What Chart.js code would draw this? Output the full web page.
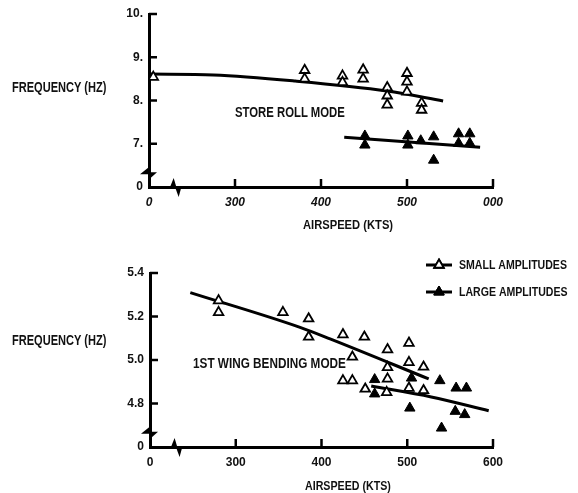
<!DOCTYPE html>
<html><head><meta charset="utf-8">
<script src="https://cdn.jsdelivr.net/npm/chart.js@4.4.1/dist/chart.umd.min.js"></script>
<style>
html,body{margin:0;padding:0;background:#fff;width:578px;height:493px;overflow:hidden}
.lbl{position:absolute;font-family:'Liberation Sans',Arial,sans-serif;font-weight:bold;font-size:14px;color:#111;white-space:nowrap;line-height:1;transform-origin:0 0}
canvas{position:absolute;left:0}
</style></head><body>
<canvas id="c1" width="578" height="240" style="top:0px"></canvas>
<canvas id="c2" width="578" height="253" style="top:240px"></canvas>
<div class="lbl" style="left:12px;top:80px;transform:scaleX(0.79)">FREQUENCY (HZ)</div>
<div class="lbl" style="left:235px;top:105px;transform:scaleX(0.81)">STORE ROLL MODE</div>
<div class="lbl" style="left:303px;top:218px;font-size:13px;transform:scaleX(0.86)">AIRSPEED (KTS)</div>
<div class="lbl" style="left:12px;top:333px;transform:scaleX(0.79)">FREQUENCY (HZ)</div>
<div class="lbl" style="left:193px;top:356px;transform:scaleX(0.84)">1ST WING BENDING MODE</div>
<div class="lbl" style="left:305px;top:479px;font-size:13px;transform:scaleX(0.82)">AIRSPEED (KTS)</div>
<script>
// ---- Store roll mode (top panel) ----
const storeSmallSpeed = [205, 381, 381, 425, 425, 449, 449, 477, 477, 477, 500, 500, 500, 517, 517];
const storeSmallFreq  = [8.54, 8.70, 8.50, 8.57, 8.42, 8.71, 8.50, 8.30, 8.11, 7.90, 8.63, 8.43, 8.20, 7.94, 7.78];
const storeLargeSpeed = [451, 451, 501, 501, 516, 531, 531, 560, 560, 573, 573];
const storeLargeFreq  = [7.18, 6.97, 7.18, 6.97, 7.07, 7.16, 6.62, 7.23, 7.01, 7.23, 7.01];
const storeSmallFitSpeed = [200, 275, 370, 477, 542];
const storeSmallFitFreq  = [8.61, 8.59, 8.45, 8.22, 7.99];
const storeLargeFitSpeed = [427, 585];
const storeLargeFitFreq  = [7.15, 6.92];
const storeYTicks = [6, 7, 8, 9, 10];
const storeYLabels = ['0', '7.', '8.', '9.', '10.'];
const storeXTicks = [200, 300, 400, 500, 600];
const storeXLabels = ['0', '300', '400', '500', '000'];

// ---- 1st wing bending mode (bottom panel) ----
const wingSmallSpeed = [280, 280, 355, 385, 385, 425, 450, 436, 477, 502, 477, 502, 519, 425, 436, 477, 451, 476, 502, 519];
const wingSmallFreq  = [5.273, 5.219, 5.219, 5.19, 5.106, 5.117, 5.106, 5.014, 5.048, 5.078, 4.966, 4.989, 4.968, 4.905, 4.905, 4.913, 4.867, 4.851, 4.871, 4.86];
const wingLargeSpeed = [462, 462, 505, 503, 538, 557, 569, 556, 567, 540];
const wingLargeFreq  = [4.91, 4.844, 4.917, 4.779, 4.905, 4.871, 4.871, 4.764, 4.749, 4.687];
const wingSmallFitSpeed = [247, 375, 410, 525];
const wingSmallFitFreq  = [5.31, 5.15, 5.097, 4.913];
const wingLargeFitSpeed = [458, 528, 595];
const wingLargeFitFreq  = [4.88, 4.83, 4.767];
const wingYTicks = [4.6, 4.8, 5.0, 5.2, 5.4];
const wingYLabels = ['0', '4.8', '5.0', '5.2', '5.4'];
const wingXTicks = [200, 300, 400, 500, 600];
const wingXLabels = ['0', '300', '400', '500', '600'];
const legendLabels = ['SMALL AMPLITUDES', 'LARGE AMPLITUDES'];

const FONT = "'Liberation Sans',Arial,sans-serif";
const pts = (xs, ys) => xs.map((x, i) => ({x, y: ys[i]}));

const decor = {
  id: 'decor',
  afterDraw(chart, args, o) {
    const {ctx, scales: {x, y}, chartArea: a} = chart;
    ctx.save();
    ctx.strokeStyle = '#000'; ctx.fillStyle = '#000'; ctx.lineWidth = 2.5;
    y.ticks.forEach(t => { if (t.value === y.min) return; const py = y.getPixelForValue(t.value);
      ctx.beginPath(); ctx.moveTo(a.left, py); ctx.lineTo(a.left + 8, py); ctx.stroke(); });
    x.ticks.forEach(t => { if (t.value === x.min) return; const px = x.getPixelForValue(t.value);
      ctx.beginPath(); ctx.moveTo(px, a.bottom); ctx.lineTo(px, a.bottom - 8); ctx.stroke(); });
    // axis break marks
    const yb = y.getPixelForValue(o.yBreak), ax = a.left;
    ctx.beginPath(); ctx.moveTo(ax + 1, yb - 7); ctx.lineTo(ax - 9, yb + 1); ctx.lineTo(ax + 1, yb + 1); ctx.closePath(); ctx.fill();
    ctx.beginPath(); ctx.moveTo(ax - 1, yb - 1); ctx.lineTo(ax + 8, yb - 1); ctx.lineTo(ax - 1, yb + 7); ctx.closePath(); ctx.fill();
    const xb = x.getPixelForValue(o.xBreak), ay = a.bottom;
    ctx.beginPath(); ctx.moveTo(xb - 6, ay + 1); ctx.lineTo(xb - 2, ay - 9); ctx.lineTo(xb + 1, ay + 1); ctx.closePath(); ctx.fill();
    ctx.beginPath(); ctx.moveTo(xb - 1, ay - 1); ctx.lineTo(xb + 6, ay - 1); ctx.lineTo(xb + 3, ay + 10); ctx.closePath(); ctx.fill();
    // legend
    if (o.legend) {
      ctx.font = "bold 12px " + FONT; ctx.textBaseline = 'middle'; ctx.textAlign = 'left';
      [0, 1].forEach(i => {
        const ds = chart.data.datasets[i];
        const ly = a.top + o.legend.y0 + i * 27, lx = a.right - o.legend.dx;
        ctx.lineWidth = 3; ctx.strokeStyle = '#000';
        ctx.beginPath(); ctx.moveTo(lx, ly); ctx.lineTo(lx + 26, ly); ctx.stroke();
        ctx.lineWidth = ds.borderWidth;
        Chart.helpers.drawPoint(ctx, {pointStyle: 'triangle', radius: ds.pointRadius, borderWidth: ds.borderWidth}, lx + 13, ly);
        ctx.fillStyle = ds.backgroundColor; ctx.fill(); ctx.stroke();
        ctx.fillStyle = '#111';
        ctx.save(); ctx.translate(lx + 33, ly + 1); ctx.scale(0.88, 1);
        ctx.fillText(legendLabels[i], 0, 0);
        ctx.restore();
      });
    }
    ctx.restore();
  }
};

function makeChart(id, cfg) {
  const tickFont = {family: FONT, size: 12, weight: 'bold'};
  return new Chart(document.getElementById(id), {
    type: 'scatter',
    data: {datasets: [
      {label: legendLabels[0], data: cfg.small, pointStyle: 'triangle', pointRadius: 5.5, borderWidth: 1.8,
       borderColor: '#000', backgroundColor: '#fff', order: 1},
      {label: legendLabels[1], data: cfg.large, pointStyle: 'triangle', pointRadius: 6, borderWidth: 1,
       borderColor: '#000', backgroundColor: '#000', order: 1},
      {type: 'line', data: cfg.fit1, showLine: true, pointRadius: 0, borderColor: '#000', borderWidth: 3,
       cubicInterpolationMode: 'monotone', order: 2},
      {type: 'line', data: cfg.fit2, showLine: true, pointRadius: 0, borderColor: '#000', borderWidth: 3,
       cubicInterpolationMode: 'monotone', order: 2}
    ]},
    options: {
      responsive: false, animation: false, events: [],
      layout: {padding: {left: 0, right: 85, top: cfg.top, bottom: 0}},
      plugins: {legend: {display: false}, tooltip: {enabled: false}, decor: cfg.decor},
      scales: {
        x: {type: 'linear', min: 200, max: 600,
          afterBuildTicks: s => { s.ticks = cfg.xTicks.map(v => ({value: v})); },
          afterFit: s => { s.height = cfg.xh; },
          grid: {display: false, drawTicks: false},
          border: {display: true, color: '#000', width: 3},
          ticks: {font: Object.assign({}, tickFont, {style: cfg.xItalic ? 'italic' : 'normal'}), color: '#111', padding: 8,
            maxRotation: 0, autoSkip: false,
            callback: (v) => cfg.xLabels[cfg.xTicks.indexOf(v)]}},
        y: {type: 'linear', min: cfg.yTicks[0], max: cfg.yTicks[cfg.yTicks.length - 1],
          afterBuildTicks: s => { s.ticks = cfg.yTicks.map(v => ({value: v})); },
          afterFit: s => { s.width = cfg.yw; },
          grid: {display: false, drawTicks: false},
          border: {display: true, color: '#000', width: 3},
          ticks: {font: tickFont, color: '#111', padding: 6, autoSkip: false,
            callback: (v) => cfg.yLabels[cfg.yTicks.findIndex(t => Math.abs(t - v) < 1e-9)]}}
      }
    },
    plugins: [decor]
  });
}

makeChart('c1', {
  small: pts(storeSmallSpeed, storeSmallFreq), large: pts(storeLargeSpeed, storeLargeFreq),
  fit1: pts(storeSmallFitSpeed, storeSmallFitFreq), fit2: pts(storeLargeFitSpeed, storeLargeFitFreq),
  xTicks: storeXTicks, xLabels: storeXLabels, yTicks: storeYTicks, yLabels: storeYLabels,
  top: 14, xh: 53, yw: 149, xItalic: true,
  decor: {yBreak: 6.32, xBreak: 231}
});
makeChart('c2', {
  small: pts(wingSmallSpeed, wingSmallFreq), large: pts(wingLargeSpeed, wingLargeFreq),
  fit1: pts(wingSmallFitSpeed, wingSmallFitFreq), fit2: pts(wingLargeFitSpeed, wingLargeFitFreq),
  xTicks: wingXTicks, xLabels: wingXLabels, yTicks: wingYTicks, yLabels: wingYLabels,
  top: 33, xh: 46, yw: 150, xItalic: false,
  decor: {yBreak: 4.666, xBreak: 231, legend: {dx: 67, y0: -8}}
});
</script>
</body></html>
